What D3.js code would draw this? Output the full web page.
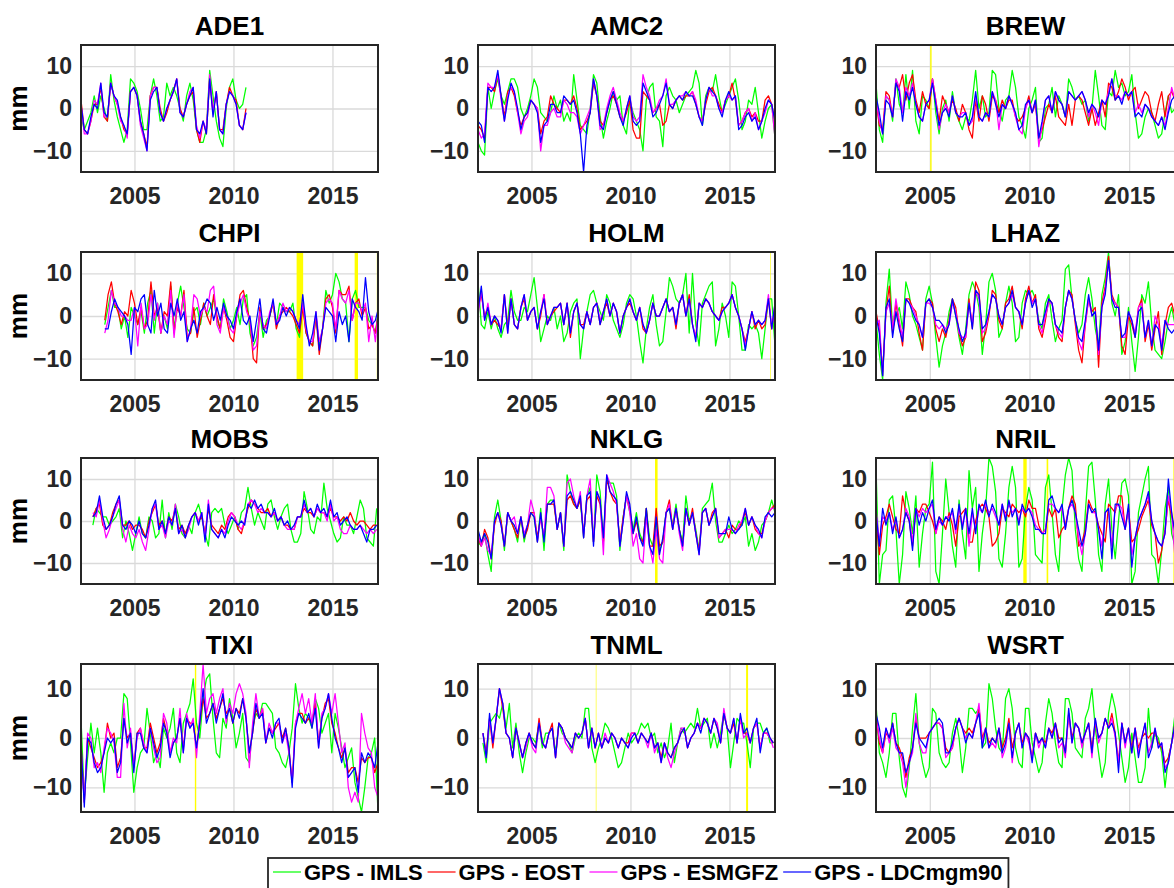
<!DOCTYPE html>
<html>
<head>
<meta charset="utf-8">
<script src="https://cdn.jsdelivr.net/npm/d3@7"></script>
<style>
  body { margin: 0; background: #fff; }
  text { font-family: "Liberation Sans", Arial, sans-serif; font-weight: bold; }
</style>
</head>
<body>
<svg id="chart"></svg>
<script>
// station order, first epoch of each series (decimal year), sampling step
const stations = ['ADE1', 'AMC2', 'BREW', 'CHPI', 'HOLM', 'LHAZ', 'MOBS', 'NKLG', 'NRIL', 'TIXI', 'TNML', 'WSRT']
const startYears = [2002.3, 2002.3, 2002.3, 2003.5, 2002.3, 2002.3, 2002.9, 2002.3, 2002.3, 2002.3, 2002.55, 2002.3]
const stepYears = 1 / 6
const seriesNames = ['GPS - IMLS', 'GPS - EOST', 'GPS - ESMGFZ', 'GPS - LDCmgm90']
const seriesColors = ['#00ff00', '#ff0000', '#ff00ff', '#0000ff']
const xTicks = [2005, 2010, 2015]
const yTicks = [-10, 0, 10]

// yellow markers: station, from, to (decimal year)
const gapStation = ['BREW', 'CHPI', 'CHPI', 'CHPI', 'HOLM', 'NKLG', 'NRIL', 'NRIL', 'NRIL', 'TIXI', 'TNML', 'TNML']
const gapFrom = [2005.02, 2013.19, 2016.12, 2017.24, 2017.05, 2011.24, 2009.69, 2010.86, 2017.22, 2008.05, 2008.25, 2015.84]
const gapTo = [2005.09, 2013.52, 2016.29, 2017.34, 2017.08, 2011.37, 2009.86, 2010.94, 2017.45, 2008.12, 2008.28, 2015.94]

// each station: [IMLS, EOST, ESMGFZ, LDCmgm90] in mm
const ADE1 = [
  [-2,-5,-3,-1,3,-1,3,0,-3,8,2,-2,-5,-8,-5,7,6,4,0,-5,-5,3,7,3,-3,-2,6,3,5,3,0,-3,3,6,2,-5,-8,-8,-5,9,3,-3,-7,-9,0,5,7,2,0,1,5],
  [2,-5,-6,-3,1,1,5,-2,-3,6,3,1,-2,-5,-6,4,5,3,-3,-6,-9,3,5,5,0,-3,-1,2,4,7,0,-2,1,3,4,-5,-8,-3,-6,7,-1,4,-5,-5,1,5,3,2,-4,-5,0],
  [1,-6,-6,-3,2,1,6,-2,-2,6,3,1,-3,-4,-7,4,5,3,-4,-7,-10,3,5,5,-1,-3,0,2,4,7,-1,-2,1,4,5,-4,-7,-3,-5,8,-1,4,-5,-6,1,4,3,1,-4,-5,-1],
  [1,-5,-6,-2,1,0,6,-1,-2,6,3,2,-2,-4,-6,4,5,3,-3,-6,-10,2,4,5,-1,-3,0,2,4,7,-1,-2,1,3,5,-5,-6,-3,-6,7,-2,4,-5,-6,1,4,3,1,-4,-5,-1]
]
const AMC2 = [
  [-8,-10,-11,5,0,4,7,3,1,4,7,7,5,0,-2,0,3,7,5,-1,-2,-3,-1,3,0,2,-3,-1,-3,8,2,-4,-5,-6,0,8,6,-2,-7,-3,0,4,2,3,-4,-6,2,-1,-3,-5,-10,2,5,6,-2,-3,-9,3,5,3,2,-1,1,3,4,5,9,6,-4,3,5,4,8,3,-1,1,3,5,7,2,-5,-3,2,1,5,-1,-7,-3,0,1,-7],
  [-4,-5,-7,5,5,4,8,3,-2,4,5,3,-1,-4,-2,-1,2,1,0,-6,-3,-2,3,1,0,-1,2,2,1,3,0,-5,-4,-3,-1,6,3,-3,-4,-1,2,3,1,-2,-3,-1,2,-5,-7,-7,4,3,2,-1,0,1,-4,-3,1,0,2,3,2,3,3,4,1,-2,-3,1,4,5,3,1,-1,2,3,6,2,-4,-3,-1,0,-2,-1,-3,-3,2,3,1,-3],
  [-5,-7,-6,6,5,5,8,2,-3,3,5,4,-1,-6,-3,-2,2,1,0,-10,-4,-4,-1,0,-2,-2,2,1,-1,-1,-2,-6,-4,-2,0,7,3,-5,-4,0,3,5,2,-1,-3,0,3,-2,-3,-2,8,5,3,-1,0,2,3,7,1,1,2,3,3,4,3,4,2,-2,-3,2,5,3,3,0,-1,2,3,2,3,-4,-3,-1,0,-3,-1,-5,-3,-1,2,1,-7],
  [-3,-4,-8,5,4,5,9,3,-3,2,6,4,0,-5,-2,-1,2,1,-1,-8,-4,-3,1,1,-1,-1,3,2,1,2,-1,-6,-15,-4,-1,7,3,-4,-5,-1,2,4,1,-2,-4,0,3,-3,-4,-3,6,4,2,-2,-1,1,3,6,1,0,2,3,2,4,3,3,1,-2,-4,2,5,4,3,0,-2,2,4,2,3,-5,-4,-2,-1,-3,-2,-5,-3,0,2,1,-3]
]
const BREW = [
  [6,-5,-8,3,2,-3,7,1,-1,8,0,9,-3,-6,3,2,0,7,-1,-6,0,2,-3,4,-1,-3,-5,-2,-3,2,9,0,3,-2,-1,9,8,0,-3,2,3,9,5,-2,-4,-7,0,2,5,-8,-7,0,1,5,-2,3,1,-2,7,5,2,3,1,2,-3,0,9,3,-4,-5,4,3,9,5,6,3,4,8,-1,-7,-6,-2,0,-1,-4,-7,-6,-1,3,-1,0],
  [2,-4,-5,4,3,-2,6,5,8,2,6,8,2,-1,4,1,0,7,2,-3,3,1,-1,2,0,-3,1,-1,-5,-7,2,-3,3,1,-3,3,2,-1,2,0,2,2,-2,-3,-2,0,3,-1,1,-7,-5,-2,1,-1,3,-2,-3,-4,1,-4,2,3,2,-1,-4,0,-4,-1,2,-2,6,5,2,4,7,5,2,4,5,0,2,4,3,-1,-3,1,4,-2,3,4,2],
  [2,-3,-6,3,2,-2,7,5,-1,5,3,6,1,-2,-3,1,2,7,2,-5,-1,1,-1,3,-1,-2,-1,-1,-4,-3,3,-2,-3,-1,-2,4,2,-5,1,0,3,1,-2,-5,-6,0,2,-1,2,-9,-4,2,3,-1,4,2,1,-2,4,3,2,3,4,2,-2,1,-1,-4,2,1,4,7,3,3,2,4,3,4,-1,1,-1,1,0,-2,-3,-4,-2,-4,0,5,2],
  [3,-1,-6,2,1,-2,6,4,-3,4,2,5,1,-2,-3,1,2,6,1,-4,-1,0,-2,3,-1,-2,-2,-1,-4,-2,4,-2,-3,-1,-2,4,1,-2,1,0,3,1,-1,-5,-4,1,2,-1,2,-7,-3,2,3,-1,4,2,1,-2,4,3,2,3,4,2,-1,1,0,-2,2,1,3,7,2,3,1,4,3,4,-2,-1,-2,1,0,-2,-3,-4,-2,-5,-1,2,3]
]
const CHPI = [
  [-2,2,6,2,2,-3,0,-5,2,0,-2,1,-4,3,6,-4,3,-4,0,-3,7,-3,3,7,2,-3,-4,1,2,-2,3,0,2,4,-1,-3,4,1,-3,-1,2,-2,4,5,-4,-7,-5,1,-5,-1,0,3,-2,3,2,1,1,3,-3,-5,3,-4,-6,-7,0,-7,-3,6,3,5,10,8,4,3,-6,4,6,2,2,2,-1,-2,-4,2],
  [-1,5,8,3,1,-2,1,0,6,3,-2,2,-3,-1,8,0,2,-4,1,0,8,-4,2,0,6,-5,-4,2,-5,-1,3,0,-2,5,0,-3,2,-1,-5,-6,0,5,6,2,-1,-10,-11,2,-3,-2,0,3,-3,0,1,2,1,0,-2,-4,2,-4,-6,-7,0,-9,-3,4,5,2,-4,6,5,5,7,-1,3,4,0,2,-3,-2,-4,1],
  [-4,-1,6,3,2,0,0,-1,-1,2,-7,3,-3,-2,5,-1,3,-4,0,-2,6,-5,3,0,5,-6,-3,5,4,0,2,1,6,7,-2,-4,2,0,-3,-4,0,3,5,1,-1,-8,-7,1,-2,-3,1,3,-2,0,3,1,2,1,-1,-2,3,-3,-6,-6,1,-6,-3,3,4,3,-3,6,4,3,6,-1,3,3,1,3,-6,0,-6,2],
  [-3,-3,1,4,2,1,0,-2,-9,2,1,4,5,-2,-4,6,0,3,-3,-4,3,0,4,-1,1,-6,-3,-1,-4,1,2,4,3,-1,2,-1,3,0,-1,-3,1,4,-1,-2,0,-6,-1,4,-3,-4,0,4,-2,-1,2,0,2,1,-1,-3,5,-2,-7,-4,1,-8,-3,2,1,0,-6,1,-2,0,-6,4,2,1,-1,9,1,-2,-1,2]
]
const HOLM = [
  [8,-2,-3,1,-3,0,-3,-5,-2,-1,6,1,-1,-1,2,1,5,9,2,-6,-3,0,-1,2,-3,0,-6,-4,1,3,4,-10,-3,1,5,6,3,1,-1,5,3,-1,-3,-5,-2,3,5,4,0,-6,-11,-3,2,5,-2,-7,-6,1,9,7,4,3,5,10,-4,10,-2,-7,3,5,7,8,-7,-3,3,0,-5,8,7,0,-8,-8,-2,-3,-2,-4,-10,-3,4,4,-7],
  [2,5,0,2,-2,-1,-2,-3,5,-3,4,-2,-3,2,4,-1,1,2,-3,0,5,-2,0,1,2,3,-2,3,-5,1,3,-2,-2,1,-2,2,3,-2,1,3,0,3,1,-4,0,2,3,1,-1,2,-3,-4,-1,3,0,0,2,4,1,2,-3,3,5,0,5,-2,-5,3,2,4,3,1,0,-1,2,2,3,5,2,0,-3,-6,-3,1,-3,-1,-3,-2,4,-3,2],
  [0,6,-1,3,-2,0,-1,-3,5,-4,4,-2,-3,2,5,-1,1,2,-3,1,5,-2,0,2,2,3,-2,3,-4,1,3,-2,-3,1,-2,2,3,-1,1,4,0,3,1,-4,0,2,4,1,-1,2,-2,-4,-1,3,0,0,2,4,1,2,-2,3,5,0,4,-2,-5,3,2,4,3,1,0,-1,1,2,3,5,2,0,-3,-7,-3,1,-2,-1,-2,-1,5,-3,3],
  [1,7,-1,2,-2,0,-1,-4,5,-4,4,-2,-3,2,5,-1,1,2,-3,1,4,-2,0,2,2,3,-2,3,-4,1,3,-2,-3,1,-2,2,3,-2,1,4,0,3,1,-4,0,2,4,1,-1,2,-2,-4,-1,3,0,0,2,4,1,2,-2,3,5,0,4,-2,-6,3,2,4,3,1,0,-1,1,2,3,5,2,0,-3,-8,-3,1,-2,-1,-2,-1,4,-3,3]
]
const LHAZ = [
  [-1,-9,-15,3,11,-3,0,2,-3,8,5,0,-2,-5,-8,4,7,3,-5,-12,-7,-4,1,4,0,-5,-9,-3,5,8,6,2,-9,-2,8,10,6,-5,-3,3,7,3,-6,-5,3,6,5,6,4,-1,-3,3,5,-1,-6,-3,-1,11,12,4,-1,-4,-2,5,9,4,-3,-7,5,9,15,3,0,5,-9,-6,2,-6,-13,-5,5,3,8,-2,-8,-9,-10,-6,-1,2,-2],
  [1,-3,-13,1,7,-4,3,-2,-7,4,4,2,1,-4,-8,3,4,3,-3,-6,-3,-5,-1,4,2,-4,-7,-5,4,-3,8,6,-6,-4,0,6,5,-1,-3,3,4,7,2,1,-3,4,7,3,5,-3,-5,-1,4,3,-2,-5,-6,2,6,5,-2,-8,-11,-2,4,1,2,-12,3,7,14,5,3,2,-7,-9,0,-2,-5,2,4,-6,-2,-8,-3,1,-9,-2,2,3,0],
  [-2,-1,-14,1,3,-3,4,-1,-5,4,3,2,0,-2,-5,3,3,2,-2,-3,-2,-3,-2,3,1,-4,-5,-5,3,-2,6,4,-4,-3,1,5,4,0,-2,2,3,5,2,1,-2,3,6,3,4,-2,-4,0,3,3,-2,-4,-5,2,6,4,-1,-6,-8,-2,4,0,1,-9,2,6,13,4,3,2,-5,-5,1,-1,-4,2,3,-5,-1,-7,0,-2,-7,-1,-2,-2,-2],
  [0,-4,-14,2,4,-5,1,-3,-6,4,3,1,-1,-2,-5,3,4,2,-1,-1,-2,-4,-2,4,0,-3,-6,-4,3,-3,6,5,-3,-2,1,5,4,0,-2,2,3,6,2,1,-2,3,6,2,4,-2,-2,1,4,3,-2,-3,-4,2,6,4,-1,-5,-6,-1,5,0,1,-8,2,5,13,4,2,2,-5,-4,1,-1,-5,1,2,-5,-1,-7,-2,-3,-8,-1,-3,-4,-3]
]
const MOBS = [
  [-1,3,2,1,1,-1,0,1,3,-4,0,-3,-7,-3,1,-3,-4,1,0,-4,-3,5,-4,2,-2,4,1,-3,-4,-1,-3,2,4,1,-3,-6,2,3,2,3,-1,-3,-1,1,-2,2,3,8,3,-1,2,0,-2,4,5,1,-2,1,3,4,-2,-5,-5,-3,7,3,-2,-3,1,0,9,3,0,-3,-5,-4,1,-1,-1,-3,1,5,3,-4,-5,-6,3],
  [1,3,4,-1,-2,-1,2,4,5,-1,-1,0,-2,-1,-1,-2,-4,0,2,4,-1,0,-3,1,0,3,-2,-1,-3,-1,1,2,0,1,-3,3,-1,-2,-3,-1,-2,1,2,1,-2,-3,0,3,5,4,3,2,2,3,1,2,0,1,-1,-1,-2,-2,1,1,3,2,2,1,3,2,2,1,3,1,1,0,1,0,2,0,-1,0,0,-1,-2,-1,-1],
  [2,1,5,0,-4,-2,1,3,5,-2,-5,-1,-3,-4,-2,-5,-7,-2,3,4,-2,-1,-4,0,-1,4,-3,-2,-4,-2,1,2,0,2,-4,5,-2,-3,-4,-2,-3,0,2,1,-1,-2,0,4,5,4,2,3,2,2,1,2,0,1,-1,-2,-2,-2,1,1,4,2,3,1,3,2,2,0,4,0,1,-2,-3,-3,-1,-2,-2,-1,-2,-3,-2,-3,-2],
  [1,2,6,1,-2,-1,1,4,6,-1,-2,0,-1,-3,0,-3,-4,-1,3,5,-2,0,-3,1,-1,3,-3,-1,-4,-1,1,2,-1,2,-5,4,-2,-3,-4,-2,-4,-1,1,0,-1,0,-1,4,3,5,3,4,2,2,1,3,0,1,-1,0,-2,-1,1,1,5,2,3,1,4,2,3,1,5,1,2,-1,0,1,-1,-2,-2,-1,-3,-5,-2,-2,-1]
]
const NKLG = [
  [-5,-6,-3,-8,-12,1,5,0,-7,2,0,-2,-5,1,-5,-1,2,1,-5,3,-7,4,5,5,-2,2,-7,11,7,4,3,5,-4,6,8,-5,11,7,-5,10,9,9,6,-7,1,6,2,-2,2,-3,-5,3,-4,-6,0,-7,-5,2,3,-1,4,-2,-5,6,0,2,-2,-7,3,4,5,9,0,-5,-5,-3,-1,-3,-2,0,-1,1,-6,-3,-7,-5,-1,0,2,5,2],
  [-4,-6,-2,-4,-9,-1,2,0,-6,2,0,-2,-4,1,-4,-2,2,2,-4,1,-4,4,4,4,-2,2,-6,5,6,4,3,5,-3,5,6,-5,6,4,-5,10,7,5,4,-5,1,6,3,-3,0,-4,-5,3,-6,-6,3,-6,-5,2,5,-2,3,-2,-6,3,-1,3,-3,-7,2,3,-1,2,3,-4,-3,-2,-4,-1,-2,-2,0,2,-1,1,-2,-3,-3,0,2,3,4],
  [-3,-6,-4,-7,-8,0,2,-1,-6,2,0,1,-3,1,-3,-1,5,2,-5,1,-4,8,8,6,-2,2,-6,9,10,6,3,7,-4,6,10,-5,7,5,-8,11,9,7,4,-6,0,6,2,-6,-3,-9,-10,1,-6,-10,-2,-9,-10,2,4,-2,3,-3,-7,3,-1,2,-3,-8,2,3,-1,1,3,-4,-3,-2,-2,-2,-3,-1,0,3,-1,1,-1,-3,-4,0,2,3,3],
  [-2,-5,-3,-5,-9,0,2,-1,-6,2,0,-1,-3,1,-4,-1,2,1,-5,2,-5,4,4,5,-2,2,-6,6,7,5,3,6,-4,6,7,-6,7,5,-4,11,7,6,5,-6,0,7,4,-3,1,-4,-6,3,-6,-8,1,-8,-4,2,3,-2,3,-2,-6,3,-1,2,-3,-8,2,3,-1,1,3,-3,-3,-3,1,-2,-3,-2,-1,3,-1,1,-1,-2,-4,1,2,1,2]
]
const NRIL = [
  [13,-15,-8,-7,5,6,-2,-15,-8,7,3,-3,6,-11,-3,3,4,14,-12,-15,-3,10,2,-6,-11,5,-3,-9,12,3,8,-12,-3,3,15,13,7,-9,-11,-3,8,13,8,-11,-9,3,8,5,-8,-9,-10,8,11,2,-8,-12,3,11,15,12,-2,-9,-12,2,13,14,5,-8,-12,4,10,-2,-9,0,9,10,6,-15,-12,2,6,10,13,-8,-9,-15,-7,3,8,-3,-6],
  [1,-8,-1,1,4,1,-2,-3,6,2,0,-6,3,2,4,4,2,0,-3,1,0,-2,2,-1,-6,1,2,3,-5,-5,0,3,4,3,1,-6,-5,-3,3,2,1,4,3,2,3,1,5,3,3,-1,-3,-2,3,1,3,-4,-2,-1,3,6,4,-6,-5,-2,5,3,2,-1,-3,-5,4,3,2,6,6,-2,3,-5,-4,-2,1,3,5,-1,-3,-10,-7,-2,5,1,-2],
  [3,-5,1,0,2,-2,0,-4,-2,3,1,-5,3,1,3,2,3,4,-3,0,-1,1,1,2,-3,3,-1,3,-6,2,-2,3,2,4,2,3,1,-1,4,1,4,2,3,0,3,2,3,2,-1,-2,-3,-2,4,4,3,2,3,-2,3,4,2,-4,-8,-3,4,2,2,-2,-6,2,3,-6,3,4,3,-2,3,-8,-4,0,2,4,6,0,-3,-5,-6,-3,6,2,-9],
  [2,-6,3,-1,2,-3,1,-4,-2,2,0,-7,3,-1,2,0,3,5,-2,1,-1,1,0,3,-2,4,-2,3,-3,3,-3,4,2,5,1,4,2,-1,4,0,5,1,3,-1,4,2,3,1,-2,-2,-3,-3,5,6,3,2,4,-2,3,5,2,-2,-6,-3,4,2,3,-2,-9,2,3,-9,4,4,1,-2,4,-11,-4,0,2,4,7,0,-3,-5,-6,-3,10,2,-3]
]
const TIXI = [
  [4,-12,-4,3,-3,2,-3,-11,-3,-1,-3,0,0,9,8,-1,-11,-6,-3,-2,6,1,-5,-3,-6,2,0,2,6,-3,-5,3,5,7,12,3,0,8,12,13,4,-3,-4,4,2,8,4,-2,1,5,-4,-5,2,5,4,7,7,6,5,-2,-3,-5,-6,-3,2,11,6,3,5,4,2,8,6,1,3,5,-3,5,2,-2,-6,-4,-2,-9,-12,-15,-10,-4,-3,0,-15],
  [-1,-13,0,-2,-4,-6,-5,-3,3,0,1,-6,-4,4,0,1,-6,1,2,-2,-2,3,0,-3,-1,4,1,-3,-1,0,4,-2,4,3,3,-2,3,8,4,5,7,4,6,8,5,6,3,6,5,8,4,-3,1,6,4,6,-1,2,1,2,3,0,2,-2,-9,3,5,5,3,4,3,7,-1,4,7,8,3,1,-2,-4,-2,-7,-6,-6,-9,-4,-5,-4,-4,-7,-5],
  [-2,-13,1,0,-6,-5,-7,-2,2,1,-1,-8,-8,7,-2,2,-6,0,2,-1,-3,2,-2,-5,-4,5,3,-3,0,-1,6,-3,5,2,4,-4,5,15,5,8,9,5,8,10,3,7,5,9,11,9,5,-6,3,9,4,6,-1,3,1,3,3,-1,1,-3,-9,3,6,9,5,8,3,9,-2,5,6,9,5,9,3,-3,-1,-10,-13,-11,-13,5,1,-2,-3,-10,-12],
  [-1,-14,0,-1,-5,-7,-6,-3,0,-1,0,-7,-5,4,-1,1,-7,1,1,-2,-3,2,-1,-4,-2,3,1,-4,-1,0,4,-3,4,2,3,-2,3,10,3,5,7,3,6,9,4,6,3,6,4,8,4,-3,1,7,4,5,-1,2,0,3,4,-1,2,-2,-10,2,5,4,3,5,2,6,-2,4,6,9,4,0,-2,-5,-2,-8,-7,-6,-11,-3,-5,-3,-4,-6,-1]
]
const TNML = [
  [-1,-5,3,4,5,4,7,2,7,-2,3,-3,-7,-3,0,0,-1,3,-2,1,1,2,-3,3,1,0,-1,-3,0,1,0,6,6,-2,-5,-2,0,3,2,0,-3,-6,-5,-2,1,-1,0,1,3,2,3,0,1,-3,-1,-4,-2,3,-5,-1,2,1,2,3,2,6,2,3,4,-2,1,-2,1,5,2,-6,-1,4,3,3,-1,-6,2,3,3,1,2,-1,-1],
  [1,-3,4,-2,4,10,6,1,0,-4,2,-1,-4,-1,1,-1,-2,4,-1,-2,1,3,-4,3,2,0,-1,-2,1,0,1,4,-2,2,-2,1,-2,0,-1,1,0,-2,0,-1,-1,1,1,-1,1,0,-1,1,-2,-1,-4,-1,-3,-4,-2,-1,1,2,-2,0,1,3,2,4,3,1,4,2,-1,5,2,1,3,-1,4,1,1,-1,2,3,-2,1,1,0,-1],
  [1,-4,4,-1,4,10,7,1,0,-4,2,-1,-4,-2,1,-2,-3,3,-1,-2,1,2,-4,3,2,-1,-2,-3,1,0,1,4,-2,2,-2,1,-2,1,-1,1,0,-2,0,-1,-2,1,1,-1,1,0,-2,1,-3,-1,-5,-1,-4,-6,-3,-1,2,2,-2,0,1,3,2,4,3,1,4,3,-1,6,2,1,4,-1,4,0,1,-1,2,3,-2,1,1,0,-2],
  [1,-4,5,-1,4,10,7,1,0,-4,2,-1,-4,-1,1,-1,-2,3,-1,-2,1,2,-4,3,2,0,-1,-2,1,0,1,4,-2,2,-2,1,-2,0,-1,1,0,-2,0,-1,-2,0,1,-1,1,0,-1,1,-2,-1,-5,-1,-3,-4,-2,-1,1,2,-2,0,1,3,1,4,3,1,4,2,-1,5,2,1,4,-1,5,1,2,-1,2,4,-3,1,2,0,-1]
]
const WSRT = [
  [7,-3,-5,-8,-3,5,5,-4,-10,-12,-6,2,9,-1,-5,-8,-6,6,5,-3,-5,-6,-5,1,4,0,-7,-2,6,6,5,6,-2,-1,11,8,2,-2,-3,8,10,6,-2,-5,-6,6,6,-1,-4,-7,-5,3,8,5,-1,-5,-6,8,8,5,-2,-3,-4,4,6,10,2,-3,-8,-5,5,9,6,1,-4,-9,-6,1,-4,-9,-9,-6,6,-2,1,0,-3,-10,-4,-1,5],
  [5,-1,-3,1,0,3,-1,-2,-4,-8,-4,-2,4,0,0,0,1,2,3,3,2,-2,-3,-2,2,4,2,1,2,1,3,6,0,2,-1,0,-1,2,-2,0,4,-2,1,3,-1,1,0,-4,1,-1,0,-1,2,1,3,0,0,-3,5,0,3,2,-1,1,3,-2,3,0,1,4,2,5,1,-5,3,-1,2,-2,2,-2,0,1,0,1,1,-1,-2,-5,-4,-1,3],
  [4,0,-3,2,-1,2,-2,-3,-5,-10,-5,-3,5,-1,-3,-3,1,2,3,3,2,-4,-3,-2,2,4,2,0,1,0,3,7,-1,2,-2,-1,-2,2,-4,-2,3,-5,1,3,-2,1,-1,-4,1,-2,0,-2,2,0,3,-2,-1,-4,5,-1,3,2,-2,1,3,-4,4,-1,1,4,2,4,0,-5,3,-2,2,-3,2,-3,0,3,-3,-1,2,-2,-1,-6,-5,-1,2],
  [5,2,-2,2,0,3,-1,-3,-3,-7,-5,-2,3,0,-1,-2,1,2,3,4,3,-3,-3,-1,2,4,2,-1,1,0,3,5,-2,2,-2,0,-1,2,-3,-1,3,-4,1,3,-2,1,0,-5,1,-1,0,-2,2,0,3,-1,0,-3,6,-1,3,2,-1,1,3,-3,4,0,1,4,2,3,1,-7,3,-1,2,-3,2,-4,0,3,-4,-2,2,-2,-1,-7,-5,-1,3]
]
const stationSeries = [ADE1, AMC2, BREW, CHPI, HOLM, LHAZ, MOBS, NKLG, NRIL, TIXI, TNML, WSRT]

const W = 1174, H = 888
const colLeft = [81, 478, 876]
const colW = [297, 297, 299]
const rowTop = [45, 252, 458, 664]
const rowH = [127, 128, 126, 148]
const ink = '#262626'

const svg = d3.select('#chart').attr('width', W).attr('height', H)
svg.append('rect').attr('width', W).attr('height', H).attr('fill', '#fff')

stations.forEach((name, k) => {
    const col = k % 3
    const row = Math.floor(k / 3)
    const left = colLeft[col]
    const plotW = colW[col]
    const top = rowTop[row]
    const h = rowH[row]

    const x = d3.scaleLinear().domain([2002.3, 2017.3]).range([left, left + plotW])
    const y = d3.scaleLinear().domain([-15, 15]).range([top + h, top])
    const g = svg.append('g')

    g.append('clipPath').attr('id', `clip${k}`)
        .append('rect')
        .attr('x', left).attr('y', top)
        .attr('width', plotW).attr('height', h)

    // grid
    const gx = g.append('g')
        .attr('transform', `translate(0,${top + h})`)
        .call(d3.axisBottom(x).tickValues(xTicks).tickSize(-h).tickFormat(''))
    const gy = g.append('g')
        .attr('transform', `translate(${left},0)`)
        .call(d3.axisLeft(y).tickValues(yTicks).tickSize(-plotW).tickFormat(''))
    ;[gx, gy].forEach(a => {
        a.select('.domain').remove()
        a.selectAll('line').attr('stroke', '#dadada').attr('stroke-width', 1.3)
    })

    const body = g.append('g').attr('clip-path', `url(#clip${k})`)

    // yellow markers
    const marks = gapStation.map((s, i) => ({ s, from: gapFrom[i], to: gapTo[i] }))
        .filter(d => d.s === name)
    body.selectAll('.gap').data(marks).enter()
        .append('rect')
        .attr('class', 'gap')
        .attr('x', d => x(d.from))
        .attr('width', d => x(d.to) - x(d.from))
        .attr('y', top).attr('height', h)
        .attr('fill', '#ffff00')

    const t0 = startYears[k]
    const line = d3.line()
        .x((v, i) => x(t0 + i * stepYears))
        .y(v => y(v))
    body.selectAll('.series').data(stationSeries[k]).enter()
        .append('path')
        .attr('class', 'series')
        .attr('d', d => line(d))
        .attr('fill', 'none')
        .attr('stroke', (d, i) => seriesColors[i])
        .attr('stroke-width', 1.25)
        .attr('stroke-linejoin', 'round')

    // box
    g.append('rect')
        .attr('x', left).attr('y', top)
        .attr('width', plotW).attr('height', h)
        .attr('fill', 'none')
        .attr('stroke', ink)
        .attr('stroke-width', 2)

    // tick labels
    const ax = g.append('g')
        .attr('transform', `translate(0,${top + h})`)
        .call(d3.axisBottom(x).tickValues(xTicks).tickFormat(d3.format('d')).tickSize(0).tickPadding(15.5))
    const ay = g.append('g')
        .attr('transform', `translate(${left},0)`)
        .call(d3.axisLeft(y).tickValues(yTicks).tickSize(0).tickPadding(9))
    ;[ax, ay].forEach(a => {
        a.select('.domain').remove()
        a.selectAll('text')
            .attr('fill', ink)
            .style('font-size', '23px')
            .style('font-family', '"Liberation Sans", Arial, sans-serif')
            .style('font-weight', 'bold')
    })

    g.append('text')
        .attr('x', left + plotW / 2)
        .attr('y', top - 10)
        .attr('text-anchor', 'middle')
        .attr('fill', '#000')
        .style('font-size', '26px')
        .text(name)

    if (col === 0) {
        g.append('text')
            .attr('transform', `translate(27,${top + h / 2}) rotate(-90)`)
            .attr('text-anchor', 'middle')
            .attr('fill', '#000')
            .style('font-size', '26px')
            .text('mm')
    }
})

// legend
const legend = svg.append('g')
const legendBox = legend.append('rect')
    .attr('x', 268).attr('y', 858)
    .attr('height', 40)
    .attr('fill', '#fff')
    .attr('stroke', ink)
    .attr('stroke-width', 1.8)
let lx = 273
seriesNames.forEach((n, i) => {
    legend.append('line')
        .attr('x1', lx).attr('x2', lx + 28)
        .attr('y1', 872).attr('y2', 872)
        .attr('stroke', seriesColors[i])
        .attr('stroke-width', 1.2)
    const t = legend.append('text')
        .attr('x', lx + 31).attr('y', 880)
        .attr('fill', '#000')
        .style('font-size', '22px')
        .text(n)
    lx += 31 + t.node().getComputedTextLength() + 5
})
legendBox.attr('width', lx - 268 + 1)
</script>
</body>
</html>
